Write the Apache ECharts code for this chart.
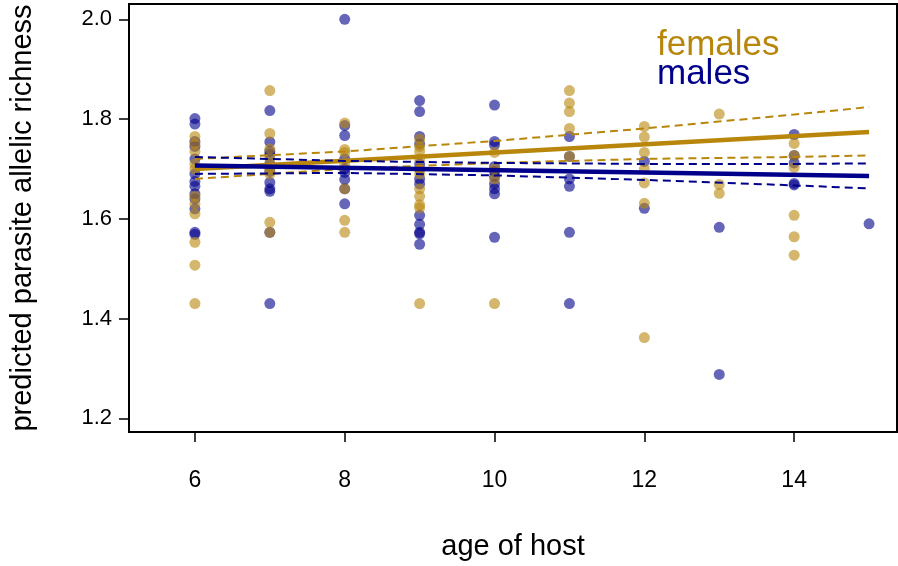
<!DOCTYPE html>
<html>
<head>
<meta charset="utf-8">
<script src="https://cdn.jsdelivr.net/npm/echarts@6/dist/echarts.min.js"></script>
<style>html,body{margin:0;padding:0;background:#fff;}#chart{width:898px;height:566px;}</style>
</head>
<body>
<div id="chart"></div>
<script>
// ---- data ----
const femaleAge = [6,6,6,6,6,6,6,6,6,6,6, 7,7,7,7,7,7,7,7, 8,8,8,8,8,8,8, 9,9,9,9,9,9,9,9,9,9,9, 10,10,10,10, 11,11,11,11,11, 12,12,12,12,12,12,12, 13,13,13, 14,14,14,14,14,14];
const femaleRichness = [1.765,1.75,1.735,1.71,1.70,1.645,1.63,1.61,1.553,1.507,1.43,
  1.857,1.771,1.74,1.72,1.70,1.69,1.593,1.573,
  1.792,1.739,1.733,1.71,1.66,1.597,1.573,
  1.76,1.745,1.735,1.72,1.70,1.69,1.66,1.645,1.628,1.622,1.43,
  1.733,1.70,1.68,1.43,
  1.857,1.832,1.815,1.781,1.725,
  1.785,1.764,1.733,1.70,1.672,1.631,1.362,
  1.81,1.669,1.651,
  1.751,1.727,1.703,1.607,1.564,1.527];
const maleAge = [6,6,6,6,6,6,6,6,6,6,6,6,6, 7,7,7,7,7,7,7,7,7,7,7, 8,8,8,8,8,8,8,8,8, 9,9,9,9,9,9,9,9,9,9,9,9,9, 10,10,10,10,10,10,10,10,10,10, 11,11,11,11,11,11, 12,12, 13,13, 14,14,14,14,14, 15];
const maleRichness = [1.801,1.79,1.755,1.745,1.72,1.69,1.675,1.665,1.65,1.64,1.62,1.573,1.569,
  1.817,1.754,1.735,1.729,1.71,1.695,1.673,1.66,1.655,1.573,1.43,
  2.0,1.787,1.767,1.72,1.70,1.693,1.679,1.66,1.63,
  1.837,1.815,1.765,1.75,1.71,1.70,1.68,1.67,1.607,1.589,1.573,1.57,1.549,
  1.828,1.755,1.748,1.705,1.695,1.685,1.67,1.66,1.65,1.563,
  1.765,1.725,1.68,1.665,1.573,1.43,
  1.715,1.621,
  1.583,1.288,
  1.769,1.727,1.712,1.671,1.668,
  1.59];
const fitAge = [6, 15];
const femaleFit = [1.700, 1.774];
const maleFit = [1.707, 1.686];
const ciAge = [6, 8, 10, 12, 14, 15];
const femaleUpper = [1.720, 1.735, 1.756, 1.781, 1.809, 1.824];
const femaleLower = [1.680, 1.700, 1.712, 1.720, 1.724, 1.727];
const maleUpper = [1.724, 1.716, 1.712, 1.710, 1.710, 1.711];
const maleLower = [1.690, 1.692, 1.687, 1.678, 1.667, 1.661];
const xTicks = [6, 8, 10, 12, 14];
const yTicks = [1.2, 1.4, 1.6, 1.8, 2.0];
const legendLabels = ['females', 'males'];

// ---- build ----
const GOLD = '#B8860B', NAVY = '#00008B';
const zip = (a, b) => a.map((v, i) => [v, b[i]]);
const FONT = '"Liberation Sans", Arial, sans-serif';

const chart = echarts.init(document.getElementById('chart'), null, {renderer: 'canvas'});
const dashed = (name, x, y, color, z) => ({
  name, type: 'line', data: zip(x, y), showSymbol: false, symbol: 'none', z, silent: true,
  lineStyle: {color, width: 2, type: [8, 5]}
});
chart.setOption({
  animation: false,
  backgroundColor: '#fff',
  grid: {left: 128, right: 1, top: 4, bottom: 133, show: true, borderColor: '#000', borderWidth: 2, backgroundColor: 'transparent'},
  xAxis: {
    type: 'value', min: 5.12, max: 15.373,
    name: 'age of host', nameLocation: 'middle', nameGap: 100,
    nameTextStyle: {fontFamily: FONT, fontSize: 29, color: '#000'},
    axisLine: {show: false},
    splitLine: {show: false},
    axisTick: {show: true, length: 10, customValues: xTicks, lineStyle: {color: '#000', width: 1.5}},
    axisLabel: {customValues: xTicks, margin: 37, fontFamily: FONT, fontSize: 23, color: '#000'}
  },
  yAxis: {
    type: 'value', min: 1.1726, max: 2.0306,
    name: 'predicted parasite allelic richness', nameLocation: 'middle', nameGap: 92,
    nameTextStyle: {fontFamily: FONT, fontSize: 29, color: '#000'},
    axisLine: {show: false},
    splitLine: {show: false},
    axisTick: {show: true, length: 10, customValues: yTicks, lineStyle: {color: '#000', width: 1.5}},
    axisLabel: {customValues: yTicks, margin: 17, fontFamily: FONT, fontSize: 22, color: '#000',
      formatter: v => Number(v).toFixed(1)}
  },
  series: [
    {name: 'males', type: 'scatter', data: zip(maleAge, maleRichness), symbolSize: 11, z: 2,
      itemStyle: {color: NAVY, opacity: 0.6}},
    {name: 'females', type: 'scatter', data: zip(femaleAge, femaleRichness), symbolSize: 11, z: 2,
      itemStyle: {color: GOLD, opacity: 0.6}},
    dashed('females upper', ciAge, femaleUpper, GOLD, 3),
    dashed('females lower', ciAge, femaleLower, GOLD, 3),
    {name: 'females fit', type: 'line', data: zip(fitAge, femaleFit), showSymbol: false, symbol: 'none', z: 4,
      lineStyle: {color: GOLD, width: 4.5}},
    dashed('males upper', ciAge, maleUpper, NAVY, 5),
    dashed('males lower', ciAge, maleLower, NAVY, 5),
    {name: 'males fit', type: 'line', data: zip(fitAge, maleFit), showSymbol: false, symbol: 'none', z: 6,
      lineStyle: {color: NAVY, width: 4.5}}
  ],
  graphic: [
    {type: 'text', left: 657, top: 28, z: 10, style: {text: legendLabels[0], fill: GOLD, font: '35px ' + FONT}},
    {type: 'text', left: 657, top: 57, z: 10, style: {text: legendLabels[1], fill: NAVY, font: '35px ' + FONT}}
  ]
});
</script>
</body>
</html>
